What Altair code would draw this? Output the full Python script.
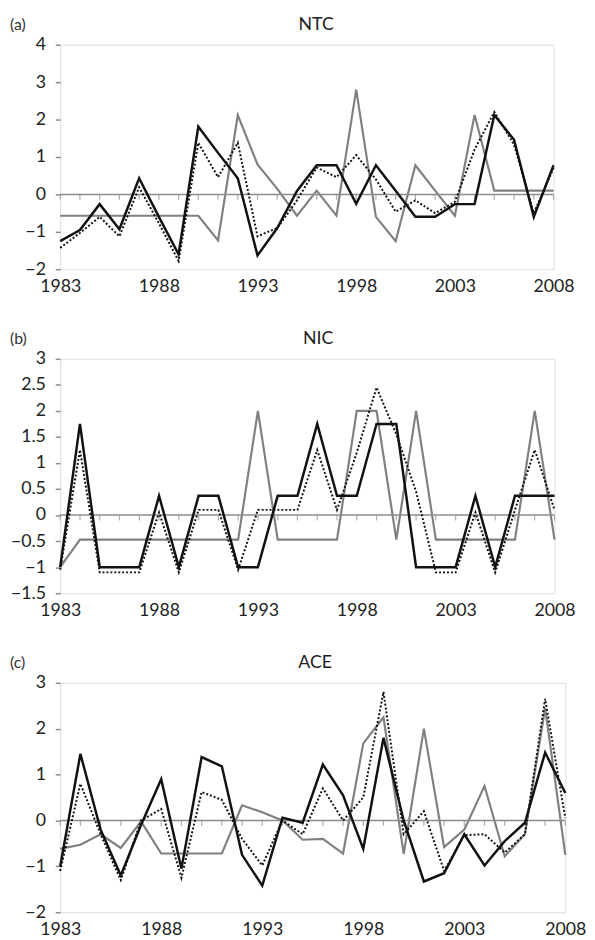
import altair as alt
import pandas as pd

years = list(range(1983, 2009))

# Panel (a) NTC
ntc_black = [-1.25, -0.95, -0.26, -0.93, 0.43, -0.6, -1.6, 1.81, 1.11, 0.43, -1.63, -0.9, 0.09,
             0.78, 0.78, -0.25, 0.78, 0.1, -0.6, -0.6, -0.26, -0.26, 2.12, 1.46, -0.6, 0.78]
ntc_dotted = [-1.43, -1.03, -0.6, -1.12, 0.19, -0.77, -1.78, 1.38, 0.46, 1.38, -1.12, -0.9, -0.16,
              0.72, 0.46, 1.05, 0.4, -0.46, -0.16, -0.5, -0.2, 1.2, 2.2, 1.33, -0.5, 0.7]
ntc_gray = [-0.57, -0.57, -0.57, -0.57, -0.57, -0.57, -0.57, -0.57, -1.23, 2.12, 0.8, 0.15, -0.57,
            0.1, -0.57, 2.8, -0.6, -1.25, 0.78, 0.1, -0.57, 2.12, 0.1, 0.1, 0.1, 0.1]

# Panel (b) NIC
nic_black = [-1.0, 1.75, -1.0, -1.0, -1.0, 0.37, -1.0, 0.37, 0.37, -1.0, -1.0, 0.37, 0.37,
             1.75, 0.37, 0.37, 1.75, 1.75, -1.0, -1.0, -1.0, 0.37, -1.0, 0.37, 0.37, 0.37]
nic_dotted = [-1.05, 1.25, -1.1, -1.1, -1.1, 0.05, -1.1, 0.1, 0.1, -1.05, 0.1, 0.1, 0.1,
              1.25, 0.1, 1.2, 2.45, 1.55, 0.45, -1.1, -1.1, 0.05, -1.1, 0.1, 1.25, 0.1]
nic_gray = [-1.0, -0.47, -0.47, -0.47, -0.47, -0.47, -0.47, -0.47, -0.47, -0.47, 2.0, -0.47, -0.47,
            -0.47, -0.47, 2.0, 2.0, -0.47, 2.0, -0.47, -0.47, -0.47, -0.47, -0.47, 2.0, -0.47]

# Panel (c) ACE
ace_black = [-1.0, 1.45, -0.2, -1.2, -0.1, 0.9, -1.05, 1.38, 1.18, -0.75, -1.42, 0.06, -0.05,
             1.22, 0.55, -0.62, 1.8, 0.0, -1.33, -1.15, -0.3, -0.98, -0.45, -0.05, 1.48, 0.6]
ace_dotted = [-1.1, 0.8, -0.3, -1.3, 0.0, 0.25, -1.25, 0.62, 0.45, -0.4, -0.98, 0.0, -0.3,
              0.7, 0.0, 0.5, 2.8, -0.3, 0.2, -1.1, -0.32, -0.3, -0.7, -0.3, 2.65, 0.05]
ace_gray = [-0.62, -0.53, -0.3, -0.6, -0.02, -0.72, -0.72, -0.72, -0.72, 0.33, 0.18, 0.0, -0.42,
            -0.4, -0.72, 1.68, 2.25, -0.73, 2.0, -0.58, -0.2, 0.75, -0.78, -0.3, 2.45, -0.75]

x_labels = [1983, 1988, 1993, 1998, 2003, 2008]

FONT = "Lato"
FRAME = "#8c8c8c"


def panel(tag, name, black, dotted, gray, ydom, yvals, width, height, title_x):
    df = pd.DataFrame({"year": years, "black": black, "dotted": dotted, "gray": gray})
    xscale = alt.Scale(domain=[1983, 2008], nice=False, zero=False)
    xaxis = alt.Axis(values=x_labels, format="d", title=None, ticks=False, domain=False,
                     grid=False, labelFontSize=18, labelFont=FONT, labelColor="#222",
                     labelPadding=9, labelFlush=False, labelOverlap=False)
    yscale = alt.Scale(domain=ydom, nice=False, zero=False)
    yaxis = alt.Axis(values=yvals, format="~g", title=None, grid=False, domain=False, ticks=True,
                     tickSize=5, tickColor=FRAME, tickWidth=1.5, labelFontSize=18,
                     labelFont=FONT, labelColor="#222", labelPadding=10, labelOverlap=False,
                     labelFlush=False)
    x = alt.X("year:Q", scale=xscale, axis=xaxis)
    base = alt.Chart(df)
    zero = alt.Chart(pd.DataFrame({"z": [0]})).mark_rule(color=FRAME, strokeWidth=1.5).encode(
        y=alt.Y("z:Q", scale=yscale, axis=yaxis))
    ticks = base.mark_tick(orient="vertical", color=FRAME, size=5, thickness=1.2, yOffset=3).encode(
        x=x, y=alt.YDatum(0, scale=yscale, axis=yaxis))
    g = base.mark_line(color="#808080", strokeWidth=2.2).encode(
        x=x, y=alt.Y("gray:Q", scale=yscale, axis=yaxis))
    d = base.mark_line(color="#111111", strokeWidth=2, strokeDash=[2, 2]).encode(
        x=x, y=alt.Y("dotted:Q", scale=yscale, axis=yaxis))
    b = base.mark_line(color="#111111", strokeWidth=2.5).encode(
        x=x, y=alt.Y("black:Q", scale=yscale, axis=yaxis))
    lab = alt.Chart(pd.DataFrame({"t": [tag]})).mark_text(
        font=FONT, fontSize=16, color="#333", align="left", baseline="middle").encode(
        text="t:N", x=alt.value(-51), y=alt.value(-20))
    ttl = alt.Chart(pd.DataFrame({"t": [name]})).mark_text(
        font=FONT, fontSize=18, color="#222", align="center", baseline="middle").encode(
        text="t:N", x=alt.value(title_x), y=alt.value(-20))
    return alt.layer(g, zero, ticks, d, b, lab, ttl).properties(width=width, height=height)


pa = panel("(a)", "NTC", ntc_black, ntc_dotted, ntc_gray, [-2, 4], [-2, -1, 0, 1, 2, 3, 4], 501, 228, 260)
pb = panel("(b)", "NIC", nic_black, nic_dotted, nic_gray, [-1.5, 3],
           [-1.5, -1, -0.5, 0, 0.5, 1, 1.5, 2, 2.5, 3], 502, 238, 262)
pc = panel("(c)", "ACE", ace_black, ace_dotted, ace_gray, [-2, 3], [-2, -1, 0, 1, 2, 3], 513, 233, 259)

chart = alt.vconcat(pa, pb, pc, spacing=33).properties(
    padding={"left": 1, "top": 0, "right": 0, "bottom": 0}
).configure_view(stroke=FRAME, strokeWidth=1.5).configure(background="white")

chart.save("out.html", embed_options={"renderer": "svg", "actions": False})
